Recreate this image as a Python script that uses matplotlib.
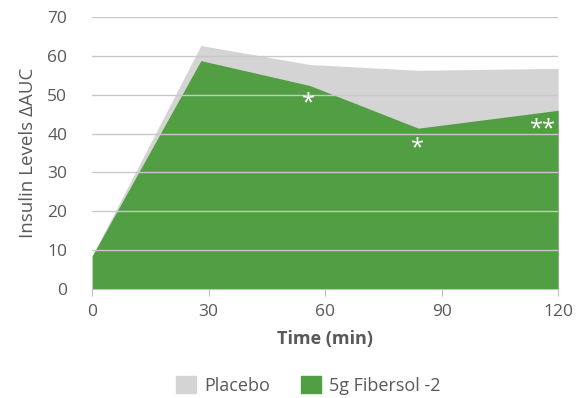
import matplotlib.pyplot as plt
from matplotlib.patches import Patch

plt.rcParams['font.family'] = ['Open Sans', 'DejaVu Sans']

# donnees
temps = [0, 28, 56, 84, 120]
placebo = [8.5, 62.7, 57.8, 56.3, 56.8]
fibersol = [8.5, 58.8, 52.4, 41.4, 46.0]
xticks = [0, 30, 60, 90, 120]
yticks = [0, 10, 20, 30, 40, 50, 60, 70]

gris_txt = '#595959'
col_placebo = '#d4d4d4'
col_fibersol = '#519e43'

fig = plt.figure(figsize=(5.76, 3.98), dpi=100)
ax = fig.add_axes([0.16, 0.274, 0.809, 0.683])

ax.fill_between(temps, placebo, color=col_placebo, lw=0, zorder=1)
ax.fill_between(temps, fibersol, color=col_fibersol, lw=0, zorder=2)

# grille par dessus les aires
for y in yticks[1:]:
    ax.axhline(y, color='#c8c8c8', lw=1, zorder=3)

# asterisques
ax.text(55.7, 47.9, '*', color='white', fontsize=17, ha='center', va='center', zorder=4)
ax.text(83.7, 36.2, '*', color='white', fontsize=17, ha='center', va='center', zorder=4)
ax.text(116, 41.2, '**', color='white', fontsize=17, ha='center', va='center', zorder=4)

ax.set_xlim(0, 120)
ax.set_ylim(0, 70)
ax.set_xticks(xticks)
ax.set_yticks(yticks)
ax.tick_params(axis='x', colors='#bfbfbf', length=5, labelcolor=gris_txt, labelsize=12.5, pad=6)
ax.tick_params(axis='y', length=0, labelcolor=gris_txt, labelsize=12.5, pad=18)

for s in ['top', 'right', 'left']:
    ax.spines[s].set_visible(False)
ax.spines['bottom'].set_color('#bfbfbf')
ax.spines['bottom'].set_zorder(5)

ax.set_xlabel('Time (min)', fontsize=13, fontweight='bold', color=gris_txt, labelpad=7)
ax.set_ylabel('Insulin Levels ΔAUC', fontsize=13.5, color=gris_txt, labelpad=7)

handles = [Patch(color=col_placebo, label='Placebo'),
           Patch(color=col_fibersol, label='5g Fibersol -2')]
fig.legend(handles=handles, loc='center', bbox_to_anchor=(0.535, 0.032), ncol=2,
           frameon=False, fontsize=13, labelcolor=gris_txt,
           handlelength=1.1, handleheight=1.1, handletextpad=0.45, columnspacing=1.7)

plt.savefig('out.png', dpi=100)
